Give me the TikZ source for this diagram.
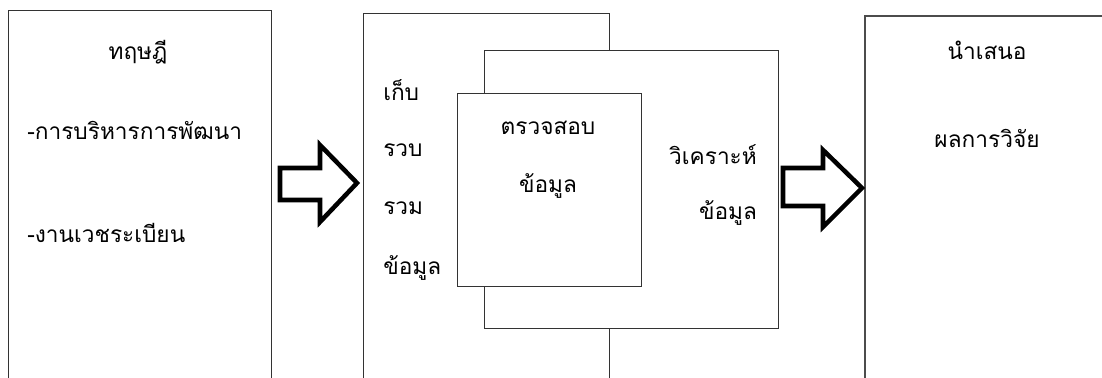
\documentclass[tikz,border=0pt]{standalone}
\usepackage{fontspec}
\newfontfamily\thaifont[Script=Thai]{Loma}
\usetikzlibrary{positioning}

\newcommand\px{0.75pt}

\tikzset{
  frame/.style={draw=black!80, line width=0.9pt, fill=white, inner sep=0pt, anchor=north west},
  lbl/.style={font=\thaifont\fontsize{17}{20}\selectfont, inner sep=0pt},
  blockarrow/.style={draw=black, line width=3.4pt, line join=miter},
}

\begin{document}
\begin{tikzpicture}[x=\px, y=-\px]
\useasboundingbox (0,0) rectangle (1102,378);
\clip (0,0) rectangle (1102,378);

% boxes
\node[frame, minimum width=263*\px, minimum height=400*\px] (theory) at (8,10) {};
\node[frame, minimum width=246*\px, minimum height=400*\px] (collect) at (363,13) {};
\node[frame, minimum width=294*\px, minimum height=278*\px] (analyse) at (484,50) {};
\node[frame, minimum width=184*\px, minimum height=193*\px] (check) at (457,93) {};
\node[frame, draw=black!70, line width=1.2pt, minimum width=260*\px, minimum height=400*\px] (present) at (864,15) {};

% block arrows
\draw[blockarrow] (280,168) -- (320,168) -- (320,145) -- (357,183)
  -- (320,222) -- (320,200) -- (280,200) -- cycle;
\draw[blockarrow] (783,168) -- (823,168) -- (823,150) -- (862,188)
  -- (823,227) -- (823,206) -- (783,206) -- cycle;

% texts
\node[lbl] (th) at (138,52) {ทฤษฎี};
\node[lbl, anchor=west] (th1) at (27,130) {-การบริหารการพัฒนา};
\node[lbl, anchor=west] (th2) at (27,233) {-งานเวชระเบียน};

\node[lbl, anchor=west] (c1) at (383,90) {เก็บ};
\node[lbl, anchor=west] (c2) at (383,150) {รวบ};
\node[lbl, anchor=west] (c3) at (383,208) {รวม};
\node[lbl, anchor=west] (c4) at (383,268) {ข้อมูล};

\node[lbl] (k1) at (548,128) {ตรวจสอบ};
\node[lbl] (k2) at (548,186) {ข้อมูล};

\node[lbl] (a1) at (713,155) {วิเคราะห์};
\node[lbl] (a2) at (728,213) {ข้อมูล};

\node[lbl] (p1) at (987,50) {นำเสนอ};
\node[lbl] (p2) at (987,138) {ผลการวิจัย};
\end{tikzpicture}
\end{document}
